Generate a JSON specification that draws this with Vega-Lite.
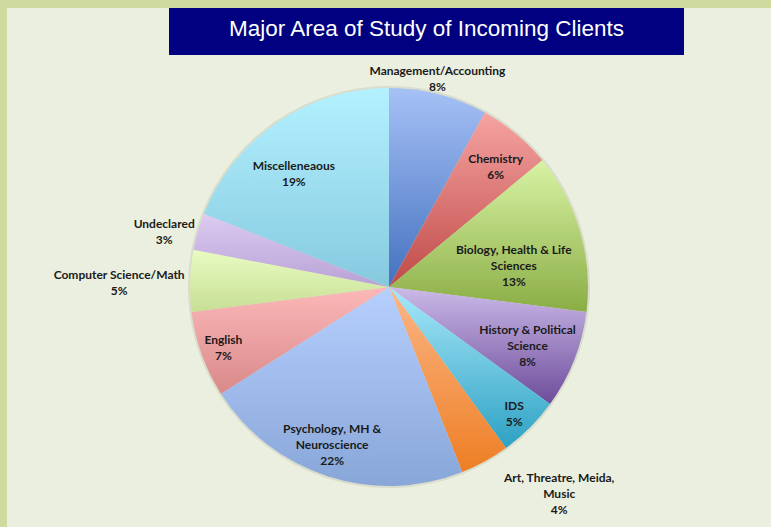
{
  "$schema": "https://vega.github.io/schema/vega-lite/v6.json",
  "background": "#CFDA9E",
  "padding": {"left": 7, "top": 8, "right": 0, "bottom": 0},
  "spacing": 0,
  "config": {
    "view": {"stroke": null, "fill": "#EBEFDF"},
    "concat": {"spacing": 0}
  },
  "datasets": {
    "areas": [
      {"order": 1, "area": "Management/Accounting", "label": "Management/Accounting", "value": 8},
      {"order": 2, "area": "Chemistry", "label": "Chemistry", "value": 6},
      {"order": 3, "area": "Biology, Health & Life Sciences", "label": "Biology, Health & Life\nSciences", "value": 13},
      {"order": 4, "area": "History & Political Science", "label": "History & Political\nScience", "value": 8},
      {"order": 5, "area": "IDS", "label": "IDS", "value": 5},
      {"order": 6, "area": "Art, Threatre, Meida, Music", "label": "Art, Threatre, Meida,\nMusic", "value": 4},
      {"order": 7, "area": "Psychology, MH & Neuroscience", "label": "Psychology, MH &\nNeuroscience", "value": 22},
      {"order": 8, "area": "English", "label": "English", "value": 7},
      {"order": 9, "area": "Computer Science/Math", "label": "Computer Science/Math", "value": 5},
      {"order": 10, "area": "Undeclared", "label": "Undeclared", "value": 3},
      {"order": 11, "area": "Miscelleneaous", "label": "Miscelleneaous", "value": 19}
    ]
  },
  "vconcat": [
    {
      "spacing": 0,
      "hconcat": [
        {
          "width": 162, "height": 47,
          "view": {"fill": "#EBEFDF", "stroke": null},
          "data": {"values": []},
          "mark": {"type": "text"},
          "encoding": {}
        },
        {
          "width": 515, "height": 47,
          "view": {"fill": "#000080", "stroke": null},
          "data": {"values": [{"t": "Major Area of Study of Incoming Clients"}]},
          "mark": {"type": "text", "font": "Liberation Sans", "fontSize": 22.5, "color": "white", "align": "center", "baseline": "middle", "dy": -3},
          "encoding": {
            "x": {"field": "t", "type": "nominal", "axis": null},
            "y": {"field": "t", "type": "nominal", "axis": null},
            "text": {"field": "t"}
          }
        },
        {
          "width": 87, "height": 47,
          "view": {"fill": "#EBEFDF", "stroke": null},
          "data": {"values": []},
          "mark": {"type": "text"},
          "encoding": {}
        }
      ]
    },
    {
      "width": 764, "height": 464,
      "view": {"fill": "#EBEFDF", "stroke": null},
      "data": {"name": "areas"},
      "layer": [
        {
          "mark": {"type": "arc", "outerRadius": 201, "color": "#5A5A40", "opacity": 0.12},
          "encoding": {
            "theta": {"field": "value", "type": "quantitative", "stack": true, "scale": {"domain": [0, 100]}},
            "order": {"field": "order", "type": "quantitative"},
            "detail": {"field": "area"}
          }
        },
        {
          "mark": {"type": "arc", "outerRadius": 199},
          "encoding": {
            "theta": {"field": "value", "type": "quantitative", "stack": true, "scale": {"domain": [0, 100]}},
            "order": {"field": "order", "type": "quantitative"},
            "detail": {"field": "area"},
            "color": {
              "condition": [
                {"test": "datum.order === 1", "value": {"gradient": "linear", "x1": 0, "y1": 0, "x2": 0, "y2": 1, "stops": [{"offset": 0, "color": "#A6C1F6"}, {"offset": 1, "color": "#4471BF"}]}},
                {"test": "datum.order === 2", "value": {"gradient": "linear", "x1": 0, "y1": 0, "x2": 0, "y2": 1, "stops": [{"offset": 0, "color": "#F6A4A2"}, {"offset": 1, "color": "#BF4A48"}]}},
                {"test": "datum.order === 3", "value": {"gradient": "linear", "x1": 0, "y1": 0, "x2": 0, "y2": 1, "stops": [{"offset": 0, "color": "#D8F3A4"}, {"offset": 1, "color": "#8AAD45"}]}},
                {"test": "datum.order === 4", "value": {"gradient": "linear", "x1": 0, "y1": 0, "x2": 0, "y2": 1, "stops": [{"offset": 0, "color": "#CBBAE8"}, {"offset": 1, "color": "#6D4C9B"}]}},
                {"test": "datum.order === 5", "value": {"gradient": "linear", "x1": 0, "y1": 0, "x2": 0, "y2": 1, "stops": [{"offset": 0, "color": "#A8E8FA"}, {"offset": 1, "color": "#2DA1C3"}]}},
                {"test": "datum.order === 6", "value": {"gradient": "linear", "x1": 0, "y1": 0, "x2": 0, "y2": 1, "stops": [{"offset": 0, "color": "#FBB687"}, {"offset": 1, "color": "#EE7E24"}]}},
                {"test": "datum.order === 7", "value": {"gradient": "linear", "x1": 0, "y1": 0, "x2": 0, "y2": 1, "stops": [{"offset": 0, "color": "#B6CFFE"}, {"offset": 1, "color": "#88A6D8"}]}},
                {"test": "datum.order === 8", "value": {"gradient": "linear", "x1": 0, "y1": 0, "x2": 0, "y2": 1, "stops": [{"offset": 0, "color": "#FCB8B8"}, {"offset": 1, "color": "#D9898A"}]}},
                {"test": "datum.order === 9", "value": {"gradient": "linear", "x1": 0, "y1": 0, "x2": 0, "y2": 1, "stops": [{"offset": 0, "color": "#E9FBC2"}, {"offset": 1, "color": "#C6DF94"}]}},
                {"test": "datum.order === 10", "value": {"gradient": "linear", "x1": 0, "y1": 0, "x2": 0, "y2": 1, "stops": [{"offset": 0, "color": "#DDCBF1"}, {"offset": 1, "color": "#B8A2D6"}]}},
                {"test": "datum.order === 11", "value": {"gradient": "linear", "x1": 0, "y1": 0, "x2": 0, "y2": 1, "stops": [{"offset": 0, "color": "#B3F1FF"}, {"offset": 1, "color": "#86C9DF"}]}}
              ],
              "value": "#cccccc"
            }
          }
        },
        {
          "transform": [{"calculate": "datum.label + '\\n' + datum.value + '%'", "as": "txt"}],
          "mark": {
            "type": "text",
            "font": "Lato",
            "fontWeight": "bold",
            "fontSize": 12,
            "color": "#1A1A1A",
            "align": "center",
            "baseline": "middle",
            "lineBreak": "\n",
            "lineHeight": 16,
            "radius": {"expr": "[215,161,130,149,177,264,168,176,270,231,148][datum.order-1]"},
            "dx": {"expr": "[-5,4,0,0,0,43,-5,0,0,-3,-12][datum.order-1]"},
            "dy": {"expr": "[-8,-4,-1,-12,-6,-40,-18,-7,-4,1,1][datum.order-1]"}
          },
          "encoding": {
            "theta": {"field": "value", "type": "quantitative", "stack": true, "scale": {"domain": [0, 100]}},
            "order": {"field": "order", "type": "quantitative"},
            "detail": {"field": "area"},
            "text": {"field": "txt"}
          }
        }
      ]
    },
    {
      "width": 764, "height": 8,
      "view": {"fill": "#EBEFDF", "stroke": null},
      "data": {"values": []},
      "mark": {"type": "text"},
      "encoding": {}
    }
  ]
}
